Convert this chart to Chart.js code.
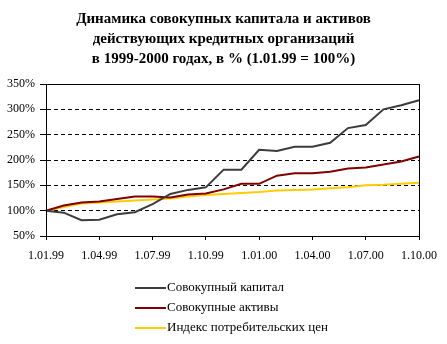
<!DOCTYPE html>
<html>
<head>
<meta charset="utf-8">
<script src="https://cdn.jsdelivr.net/npm/chart.js@4/dist/chart.umd.min.js"></script>
<style>
  body { margin: 0; background: #fff; }
  canvas { display: block; }
</style>
</head>
<body>
<canvas id="chart" width="447" height="344"></canvas>
<script>
const months = ['1.01.99', '1.02.99', '1.03.99', '1.04.99', '1.05.99', '1.06.99',
  '1.07.99', '1.08.99', '1.09.99', '1.10.99', '1.11.99', '1.12.99',
  '1.01.00', '1.02.00', '1.03.00', '1.04.00', '1.05.00', '1.06.00',
  '1.07.00', '1.08.00', '1.09.00', '1.10.00']
const capital = [100, 96, 81, 82, 93, 97, 113, 133, 141, 146, 181, 181, 220, 218, 226, 226, 234, 263, 269, 300, 308, 318]
const assets = [100, 110, 116, 118, 123, 128, 128, 126, 132, 134, 142, 153, 153, 169, 174, 174, 177, 183, 185, 191, 197, 207]
const cpi = [100, 107, 114, 116, 118, 120, 122, 124, 128, 131, 133, 135, 137, 140, 141, 142, 144, 146, 150, 151, 153, 155]
const seriesNames = ['Совокупный капитал', 'Совокупные активы', 'Индекс потребительских цен']
const titleLines = ['Динамика совокупных капитала и активов',
  'действующих кредитных организаций',
  'в 1999-2000 годах, в % (1.01.99 = 100%)']

const serif = "'Liberation Serif', 'Times New Roman', serif"

// title, frame round the plot and the vertical legend underneath
const extras = {
  id: 'extras',
  afterDraw(chart) {
    const ctx = chart.ctx
    const area = chart.chartArea
    ctx.save()
    ctx.strokeStyle = '#000'
    ctx.lineWidth = 1
    ctx.strokeRect(Math.round(area.left) + 0.5, Math.round(area.top) + 0.5,
      Math.round(area.right - area.left), Math.round(area.bottom - area.top))

    ctx.fillStyle = '#000'
    ctx.font = 'bold 15px ' + serif
    ctx.textAlign = 'center'
    ctx.textBaseline = 'middle'
    titleLines.forEach((line, i) => ctx.fillText(line, chart.width / 2, 19 + i * 20))

    ctx.font = '13px ' + serif
    ctx.textAlign = 'left'
    chart.data.datasets.forEach((ds, i) => {
      const y = 288 + i * 20
      ctx.strokeStyle = ds.borderColor
      ctx.lineWidth = 2
      ctx.beginPath()
      ctx.moveTo(135, y)
      ctx.lineTo(166, y)
      ctx.stroke()
      ctx.fillStyle = '#000'
      ctx.fillText(ds.label, 167, y)
    })
    ctx.restore()
  }
}

const ctx = document.getElementById('chart').getContext('2d')
new Chart(ctx, {
  type: 'line',
  data: {
    labels: months,
    datasets: [
      {label: seriesNames[0], data: capital, borderColor: '#3c3c3c'},
      {label: seriesNames[1], data: assets, borderColor: '#800000'},
      {label: seriesNames[2], data: cpi, borderColor: '#ffcc00'}
    ]
  },
  options: {
    responsive: false,
    animation: false,
    layout: {padding: {left: 0, top: 84, right: 28, bottom: 78}},
    elements: {
      line: {borderWidth: 2, tension: 0, fill: false},
      point: {radius: 0}
    },
    plugins: {
      legend: {display: false},
      title: {display: false},
      tooltip: {enabled: false}
    },
    scales: {
      x: {
        offset: false,
        afterFit: scale => { scale.height = 30 },
        afterBuildTicks: scale => { scale.ticks = scale.ticks.filter((t, i) => i % 3 === 0) },
        grid: {drawOnChartArea: false, tickLength: 4, color: '#000'},
        border: {color: '#000', width: 1},
        ticks: {
          autoSkip: false,
          maxRotation: 0,
          padding: 9,
          color: '#000',
          font: {family: serif, size: 12}
        }
      },
      y: {
        min: 50,
        max: 350,
        afterFit: scale => { scale.width = 46 },
        grid: {color: '#000', tickLength: 6},
        border: {color: '#000', width: 1, dash: [4, 3]},
        ticks: {
          stepSize: 50,
          padding: 5,
          color: '#000',
          font: {family: serif, size: 12},
          callback: v => v + '%'
        }
      }
    }
  },
  plugins: [extras]
})
</script>
</body>
</html>
